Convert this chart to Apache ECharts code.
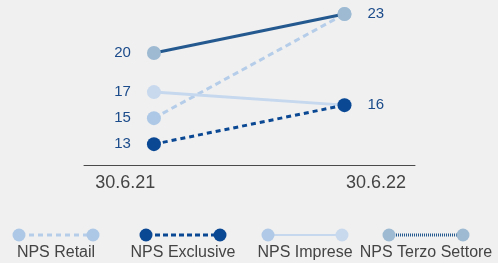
<!DOCTYPE html>
<html>
<head>
<meta charset="utf-8">
<script src="https://cdn.jsdelivr.net/npm/echarts@6/dist/echarts.min.js"></script>
<style>
  html, body { margin: 0; padding: 0; background: #f0f0f0; }
  #chart-panel { width: 498px; height: 263px; }
</style>
</head>
<body>
<div id="chart-panel"></div>
<script>
// dati
var periods = ['30.6.21', '30.6.22'];
var seriesNames = ['NPS Retail', 'NPS Exclusive', 'NPS Imprese', 'NPS Terzo Settore'];
var retail = [15, 23];
var exclusive = [13, 16];
var imprese = [17, 16];
var terzo = [20, 23];

var myChart = echarts.init(document.getElementById('chart-panel'));

function pts(vals) {
    return vals.map(function (v, i) {
        return {
            value: [i, v],
            label: { position: i === 0 ? 'left' : 'right' }
        };
    });
}

var labelStyle = {
    show: true,
    distance: 16,
    color: '#1b4b8a',
    fontSize: 15,
    fontFamily: 'Liberation Sans, Arial, sans-serif'
};

function lineSeries(name, vals, dotColor, lineColor, width, dash, z) {
    return {
        name: name,
        type: 'line',
        data: pts(vals),
        symbol: 'circle',
        symbolSize: 14,
        z: z,
        itemStyle: { color: dotColor },
        lineStyle: { color: lineColor, width: width, type: dash },
        label: labelStyle,
        labelLayout: { hideOverlap: true },
        emphasis: { disabled: true }
    };
}

// legenda disegnata a mano (icona sopra, testo sotto)
var legendItems = [
    { name: seriesNames[0], c1: '#adc8e6', c2: '#adc8e6', line: '#b5cde9', dash: [5, 4], w: 3 },
    { name: seriesNames[1], c1: '#0a4894', c2: '#0a4894', line: '#0a4894', dash: [5, 3], w: 3 },
    { name: seriesNames[2], c1: '#b0c9e6', c2: '#c8d9ee', line: '#c5d8ee', dash: null, w: 2 },
    { name: seriesNames[3], c1: '#9dbad2', c2: '#9dbad2', line: '#24598f', dash: [1, 1], w: 3 }
];
var legendX = [56, 183, 305, 426];
var graphics = [];
legendItems.forEach(function (it, k) {
    var cx = legendX[k];
    graphics.push({
        type: 'line',
        shape: { x1: cx - 36, y1: 235, x2: cx + 36, y2: 235 },
        style: { stroke: it.line, lineWidth: it.w, lineDash: it.dash }
    });
    graphics.push({ type: 'circle', shape: { cx: cx - 37, cy: 235, r: 6.5 }, style: { fill: it.c1 } });
    graphics.push({ type: 'circle', shape: { cx: cx + 37, cy: 235, r: 6.5 }, style: { fill: it.c2 } });
    graphics.push({
        type: 'text',
        x: cx, y: 253,
        style: {
            text: it.name, fill: '#444', fontSize: 16,
            fontFamily: 'Liberation Sans, Arial, sans-serif',
            align: 'center', verticalAlign: 'middle'
        }
    });
});

var option = {
    backgroundColor: '#f0f0f0',
    animation: false,
    grid: { left: 84, right: 83, top: 1, bottom: 98 },
    xAxis: {
        type: 'value',
        min: -0.367,
        max: 1.37,
        splitLine: { show: false },
        axisTick: { show: false },
        axisLine: { show: true, onZero: false, lineStyle: { color: '#4a4a4a', width: 1 } },
        axisLabel: {
            customValues: [-0.15, 1.165],
            margin: 9,
            color: '#444',
            fontSize: 18,
            fontFamily: 'Liberation Sans, Arial, sans-serif',
            formatter: function (v) { return periods[v < 0.5 ? 0 : 1]; }
        }
    },
    yAxis: {
        type: 'value',
        min: 11.4,
        max: 24,
        show: false
    },
    series: [
        lineSeries(seriesNames[0], retail, '#adc8e6', '#b5cde9', 3, [6, 4], 2),
        lineSeries(seriesNames[2], imprese, '#c8d9ee', '#c5d8ee', 3, 'solid', 3),
        lineSeries(seriesNames[1], exclusive, '#0a4894', '#0a4894', 3, [5, 4], 4),
        lineSeries(seriesNames[3], terzo, '#9dbad2', '#24598f', 3, 'solid', 5)
    ],
    graphic: graphics
};
myChart.setOption(option);
</script>
</body>
</html>
